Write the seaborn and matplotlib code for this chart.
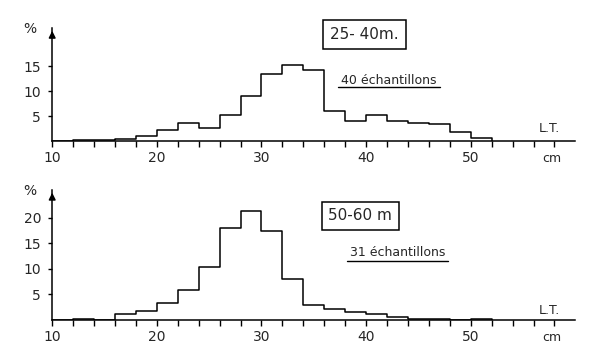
import numpy as np
import pandas as pd
import matplotlib
matplotlib.use('Agg')
import matplotlib.pyplot as plt
import seaborn as sns

# Length classes (2 cm bins, left edges) and percentages
bin_left = [10, 12, 14, 16, 18, 20, 22, 24, 26, 28, 30, 32, 34, 36, 38, 40, 42, 44, 46, 48, 50]
bin_width = 2
pct_25_40 = [0.0, 0.2, 0.3, 0.5, 1.1, 2.3, 3.7, 2.6, 5.2, 9.1, 13.4, 15.2, 14.2,
             6.1, 4.1, 5.3, 4.0, 3.7, 3.5, 1.9, 0.7]
pct_50_60 = [0.0, 0.2, 0.0, 1.1, 1.7, 3.3, 5.8, 10.3, 18.1, 21.3, 17.4, 8.0, 2.9,
             2.1, 1.6, 1.1, 0.6, 0.1, 0.1, 0.0, 0.1]
xticks = [10, 20, 30, 40, 50]
yticks_top = [5, 10, 15]
yticks_bot = [5, 10, 15, 20]

sns.set_style('white')
plt.rcParams['font.family'] = ['DejaVu Sans']

fig = plt.figure(figsize=(6, 3.59), dpi=100)
ax1 = fig.add_axes([0.087, 0.607, 0.872, 0.315])
ax2 = fig.add_axes([0.087, 0.109, 0.872, 0.362])


def draw(ax, pct, ymax, yticks, label_box, n_label, box_xy, n_xy, lt_y):
    # step outline: each class value held over its 2 cm width, closed to 0 at the end
    edges = bin_left + [bin_left[-1] + bin_width]
    df = pd.DataFrame({'length': edges, 'pct': list(pct) + [0.0]})
    sns.lineplot(data=df, x='length', y='pct', drawstyle='steps-post',
                 color='black', linewidth=1.1, estimator=None, ax=ax)
    ax.set_xlim(10, 60)
    ax.set_ylim(0, ymax)
    ax.set_xlabel('')
    ax.set_ylabel('')
    for s in ['top', 'right']:
        ax.spines[s].set_visible(False)
    for s in ['left', 'bottom']:
        ax.spines[s].set_color('black')
        ax.spines[s].set_linewidth(1.1)
    ax.set_xticks(xticks)
    ax.set_xticks(np.arange(12, 60, 2), minor=True)
    ax.set_xticklabels([str(t) for t in xticks])
    ax.set_yticks(yticks)
    ax.set_yticklabels([str(t) for t in yticks])
    ax.tick_params(axis='x', which='both', direction='out', length=4, width=1,
                   color='black', labelsize=10, pad=3, bottom=True)
    ax.tick_params(axis='y', direction='out', length=3, width=1, color='black',
                   labelsize=10, pad=5, left=True)
    # arrow on y axis
    ax.annotate('', xy=(10, ymax), xytext=(10, ymax - 2),
                arrowprops=dict(arrowstyle='-|>', color='black', lw=1.1,
                                mutation_scale=10), annotation_clip=False)
    ax.text(-0.042, 0.99, '%', transform=ax.transAxes, fontsize=10,
            ha='center', va='center')
    ax.text(57.5, lt_y, 'L.T.', fontsize=9, ha='center', va='center')
    ax.annotate('cm', xy=(57.7, 0), xytext=(0, -12.5), textcoords='offset points',
                fontsize=9, ha='center', va='center', annotation_clip=False)
    ax.text(box_xy[0], box_xy[1], label_box, transform=ax.transAxes, fontsize=11,
            ha='center', va='center',
            bbox=dict(boxstyle='square,pad=0.45', fc='white', ec='black', lw=1.1))
    ax.text(n_xy[0], n_xy[1], n_label, transform=ax.transAxes, fontsize=9,
            ha='center', va='center')
    ax.plot([n_xy[0] - 0.097, n_xy[0] + 0.097], [n_xy[1] - 0.065, n_xy[1] - 0.065],
            transform=ax.transAxes, color='black', lw=1, clip_on=False)


draw(ax1, pct_25_40, 22.6, yticks_top, '25- 40m.', '40 échantillons',
     (0.597, 0.94), (0.644, 0.54), 2.6)
draw(ax2, pct_50_60, 25.5, yticks_bot, '50-60 m', '31 échantillons',
     (0.589, 0.80), (0.66, 0.52), 1.9)

fig.savefig('out.png', dpi=100)
